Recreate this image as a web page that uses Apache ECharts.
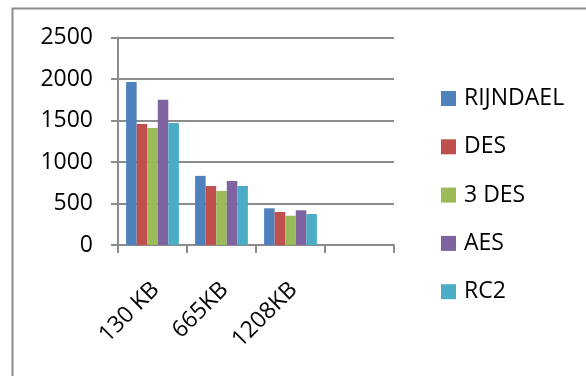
<!DOCTYPE html>
<html>
<head>
<meta charset="utf-8">
<script src="https://cdn.jsdelivr.net/npm/echarts@6/dist/echarts.min.js"></script>
<style>
  html, body { margin: 0; padding: 0; background: #fff; }
  #chart { width: 586px; height: 376px; }
</style>
</head>
<body>
<div id="chart"></div>
<script>
// File sizes on the category axis (last slot left empty)
const categories = ['130 KB', '665KB', '1208KB', ''];

// Timings per algorithm
const rijndael = [1965, 833, 442];
const des      = [1458, 711, 398];
const tripleDes = [1410, 651, 353];
const aes      = [1751, 771, 418];
const rc2      = [1470, 711, 374];

const yTicks = { min: 0, max: 2500, interval: 500 };

const seriesNames = ['RIJNDAEL', 'DES', '3 DES', 'AES', 'RC2'];
const seriesValues = [rijndael, des, tripleDes, aes, rc2];
const palette = ['#4F81BD', '#C0504D', '#9BBB59', '#8064A2', '#4BACC6'];

const FONT = 'Open Sans';
const GREY = '#8c8c8c';

const chart = echarts.init(document.getElementById('chart'), null, { renderer: 'canvas' });

chart.setOption({
  animation: false,
  backgroundColor: '#ffffff',
  color: palette,
  textStyle: { fontFamily: FONT, color: '#000' },
  graphic: [{
    type: 'rect',
    left: 10, top: 6,
    shape: { width: 600, height: 400 },
    style: { fill: 'none', stroke: GREY, lineWidth: 2 },
    silent: true
  }],
  grid: { left: 118, right: 192, top: 37.5, bottom: 131, containLabel: false },
  legend: {
    orient: 'vertical',
    left: 436,
    top: 81.5,
    itemWidth: 15,
    itemHeight: 15,
    itemGap: 24.3,
    icon: 'rect',
    data: seriesNames,
    textStyle: { fontFamily: FONT, fontSize: 23, lineHeight: 24, color: '#000', padding: [0, 0, 0, 3] }
  },
  xAxis: {
    type: 'category',
    data: categories,
    axisLine: { lineStyle: { color: GREY, width: 2 } },
    axisTick: { show: true, length: 8, lineStyle: { color: GREY, width: 2 } },
    axisLabel: {
      rotate: 45,
      margin: 28,
      verticalAlign: 'top',
      padding: [0, 7, 0, 0],
      interval: 0,
      fontFamily: FONT,
      fontSize: 23,
      color: '#000'
    },
    splitLine: { show: false }
  },
  yAxis: {
    type: 'value',
    min: yTicks.min,
    max: yTicks.max,
    interval: yTicks.interval,
    axisLine: { show: true, lineStyle: { color: GREY, width: 2 } },
    axisTick: { show: true, length: 7, lineStyle: { color: GREY, width: 2 } },
    axisLabel: {
      margin: 25,
      fontFamily: FONT,
      fontSize: 23,
      color: '#000',
      formatter: v => String(v)
    },
    splitLine: { show: true, lineStyle: { color: GREY, width: 2 } }
  },
  series: seriesNames.map((name, i) => ({
    name,
    type: 'bar',
    data: seriesValues[i],
    barGap: '0%',
    barCategoryGap: '23.5%',
    itemStyle: { color: palette[i] }
  }))
});
</script>
</body>
</html>
